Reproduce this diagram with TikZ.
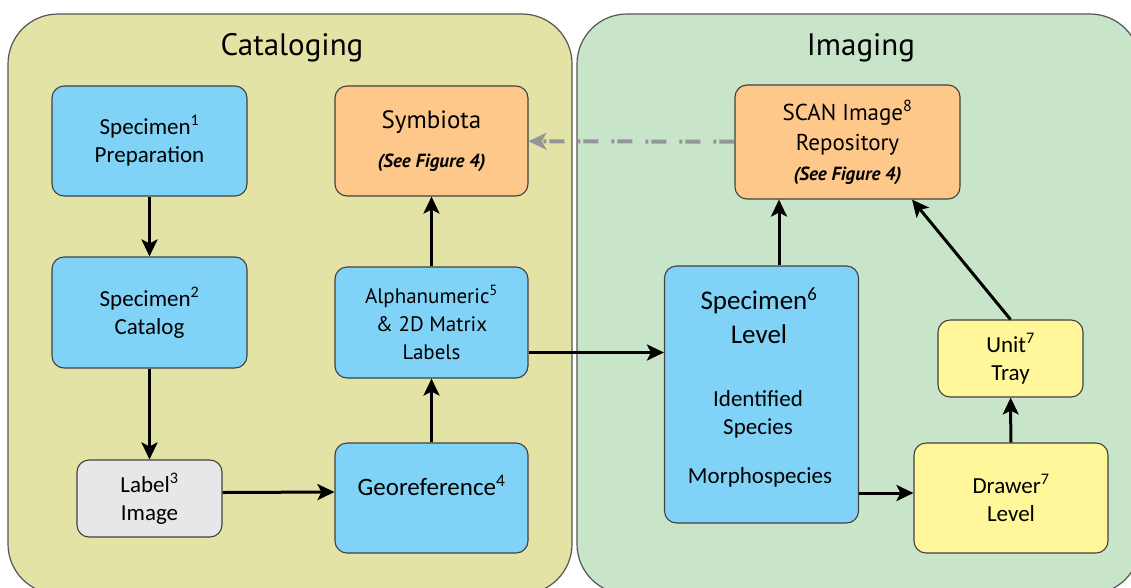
\documentclass[tikz,border=0pt]{standalone}
\usepackage{fontspec}
\setmainfont{Carlito}
\newfontfamily\myriad{PT Sans}
\usetikzlibrary{arrows.meta}

\definecolor{catfill}{HTML}{E3E3A6}
\definecolor{imgfill}{HTML}{C9E5C9}
\definecolor{bluebox}{HTML}{80D3F6}
\definecolor{orangebox}{HTML}{FEC88A}
\definecolor{yellowbox}{HTML}{FFF79A}
\definecolor{graybox}{HTML}{E6E7E8}
\definecolor{linkgray}{HTML}{939598}
\definecolor{boxline}{HTML}{404040}
\definecolor{panelline}{HTML}{555555}

\newcommand{\boxfont}{\fontsize{23}{28}\selectfont}
\newcommand{\seefig}{\myriad\fontsize{19}{22}\selectfont\bfseries\itshape}

\begin{document}
\begin{tikzpicture}[
						x = 1pt,
						y = -1pt,
						panel/.style = {
							draw = panelline,
							line width = 1.2pt,
							rounded corners = 50pt
						},
						title/.style = {
							font = \myriad\fontsize{31}{36}\selectfont
						},
						box/.style = {
							draw = boxline,
							rectangle,
							rounded corners = 12pt,
							line width = 1.1pt,
							align = center,
							inner sep = 0,
							font = \boxfont
						},
						flow/.style = {
							line width = 3pt,
							-{Stealth[length = 17pt, width = 16pt, inset = 4pt]}
						},
						link/.style = {
							draw = linkgray,
							line width = 4pt,
							dash pattern = on 15pt off 3pt on 3pt off 13pt,
							-{Stealth[length = 18pt, width = 17pt, inset = 5pt]}
						}
					]
				\clip (0, 0) rectangle (1131, 587);

				\draw [panel, fill = catfill] (8, 14) rectangle (572, 594);
				\draw [panel, fill = imgfill] (577, 14) rectangle (1140, 594);

				\node [title] (cattitle) at (292, 48) {Cataloging};
				\node [title] (imgtitle) at (861, 48) {Imaging};

				\node [box, fill = bluebox, minimum width = 195, minimum height = 110] (prep) at (149.5, 141) {Specimen\textsuperscript{1}\\Preparation};
				\node [box, fill = bluebox, minimum width = 195, minimum height = 111] (catalog) at (149.5, 312.5) {Specimen\textsuperscript{2}\\Catalog};
				\node [box, fill = graybox, minimum width = 145, minimum height = 77] (label) at (149.5, 498.5) {Label\textsuperscript{3}\\Image};
				\node [box, fill = bluebox, minimum width = 193, minimum height = 110] (georef) at (431.5, 498) {};
				\node [font = \fontsize{25}{30}\selectfont] (georeftext) at (431.5, 485) {Georeference\textsuperscript{4}};
				\node [box, fill = bluebox, minimum width = 193, minimum height = 111, font = \myriad\fontsize{21}{28}\selectfont] (alpha) at (431.5, 322.5) {Alphanumeric\textsuperscript{5}\\\& 2D Matrix\\Labels};
				\node [box, fill = orangebox, minimum width = 193, minimum height = 110, font = \myriad\fontsize{25}{30}\selectfont] (symbiota) at (431.5, 141) {Symbiota\\[9pt]{\seefig (See Figure 4)}};

				\node [box, fill = orangebox, minimum width = 225, minimum height = 114, font = \myriad\fontsize{23}{30}\selectfont] (scan) at (847.5, 142) {SCAN Image\textsuperscript{8}\\Repository\\[0pt]{\seefig (See Figure 4)}};
				\node [box, fill = bluebox, minimum width = 194, minimum height = 257] (speclevel) at (761.5, 394.5) {};
				\node [font = \fontsize{27}{34}\selectfont, align = center] (spectext) at (759, 316) {Specimen\textsuperscript{6}\\Level};
				\node [font = \boxfont, align = center] (specid) at (758, 414) {Identified\\Species};
				\node [font = \boxfont] (specmorph) at (760, 477) {Morphospecies};
				\node [box, fill = yellowbox, minimum width = 145, minimum height = 77] (unit) at (1010.5, 358.5) {Unit\textsuperscript{7}\\Tray};
				\node [box, fill = yellowbox, minimum width = 194, minimum height = 110] (drawer) at (1011, 498) {Drawer\textsuperscript{7}\\Level};

				\draw [flow] (prep) -- (catalog);
				\draw [flow] (catalog) -- (label);
				\draw [flow] ([yshift = 6pt]label.east) -- ([yshift = 6pt]georef.west);
				\draw [flow] (georef) -- (alpha);
				\draw [flow] (alpha) -- (symbiota);
				\draw [flow] ([yshift = -30pt]alpha.east) -- ([yshift = -30pt]alpha.east -| speclevel.west);
				\draw [flow] ([xshift = 17.5pt]speclevel.north) -- ([xshift = 17.5pt]speclevel.north |- scan.south);
				\draw [flow] ([yshift = 5pt]drawer.west -| speclevel.east) -- ([yshift = 5pt]drawer.west);
				\draw [flow] (drawer) -- (unit);
				\draw [flow] (unit.north) -- ([xshift = 64.5pt]scan.south);
				\draw [link] (scan) -- (symbiota);
			\end{tikzpicture}
\end{document}
